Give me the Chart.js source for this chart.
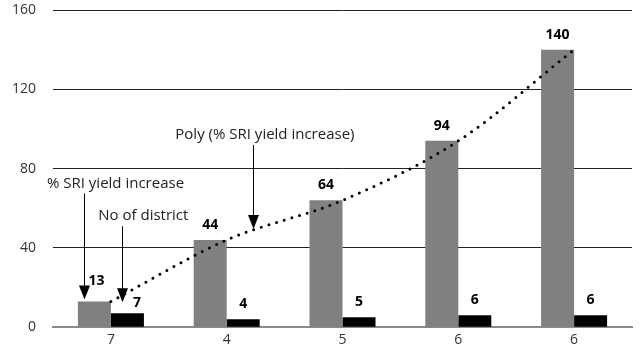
<!DOCTYPE html>
<html>
<head>
<meta charset="utf-8">
<script src="https://cdn.jsdelivr.net/npm/chart.js@4/dist/chart.umd.min.js"></script>
<style>
  html, body { margin: 0; padding: 0; background: #ffffff; }
  #wrap { width: 639px; height: 353px; }
</style>
</head>
<body>
<div id="wrap"><canvas id="c" width="639" height="353"></canvas></div>
<script>
// Category labels along the x axis
const categories = ['7', '4', '5', '6', '6'];
// % SRI yield increase (grey bars)
const sriYieldIncrease = [13, 44, 64, 94, 140];
// Number of districts (black bars)
const districtCount = [7, 4, 5, 6, 6];
// Y axis ticks
const yTicks = [0, 40, 80, 120, 160];

// Callout texts with arrows; positions in category units / value units
const calloutTexts = ['% SRI yield increase', 'No of district', 'Poly (% SRI yield increase)'];
const calloutTextAt = [[0.04, 72.5], [0.28, 56], [1.33, 97]];
const calloutArrowX = [-0.235, 0.10, 1.23];
const calloutArrowTip = [14, 12.6, 49.5];

const FONT = '"Open Sans", "Noto Sans", sans-serif';

// Bold value labels over each bar (first group nudged clear of the arrows)
const valueLabels = {
  id: 'valueLabels',
  afterDatasetsDraw(chart) {
    const ctx = chart.ctx;
    ctx.save();
    ctx.font = 'bold 14px ' + FONT;
    ctx.fillStyle = '#000';
    ctx.textAlign = 'center';
    ctx.textBaseline = 'middle';
    [0, 1].forEach(di => {
      const meta = chart.getDatasetMeta(di);
      const vals = chart.data.datasets[di].data;
      meta.data.forEach((bar, i) => {
        let dx = 0, dy = -15;
        if (i === 0 && di === 0) { dx = 2; dy = -20; }
        if (i === 0 && di === 1) { dx = 9.5; dy = -10; }
        ctx.fillText(String(vals[i]), bar.x + dx, bar.y + dy);
      });
    });
    ctx.restore();
  }
};

// Text callouts with downward arrows
const callouts = {
  id: 'callouts',
  afterDraw(chart) {
    const ctx = chart.ctx;
    const xs = chart.scales.x, ys = chart.scales.y;
    ctx.save();
    ctx.font = '15px ' + FONT;
    ctx.textAlign = 'center';
    ctx.textBaseline = 'middle';
    calloutTexts.forEach((t, i) => {
      const tx = xs.getPixelForValue(calloutTextAt[i][0]);
      const ty = ys.getPixelForValue(calloutTextAt[i][1]);
      ctx.fillStyle = '#222';
      ctx.fillText(t, tx, ty);
      const ax = Math.round(xs.getPixelForValue(calloutArrowX[i])) + 0.5;
      const tip = ys.getPixelForValue(calloutArrowTip[i]);
      const startY = ty + 10;
      ctx.strokeStyle = '#000';
      ctx.lineWidth = 1;
      ctx.beginPath();
      ctx.moveTo(ax, startY);
      ctx.lineTo(ax, tip - 12);
      ctx.stroke();
      ctx.fillStyle = '#000';
      ctx.beginPath();
      ctx.moveTo(ax - 5.5, tip - 14);
      ctx.lineTo(ax + 5.5, tip - 14);
      ctx.lineTo(ax, tip);
      ctx.closePath();
      ctx.fill();
    });
    ctx.restore();
  }
};

new Chart(document.getElementById('c'), {
  type: 'bar',
  data: {
    labels: categories,
    datasets: [
      {
        label: '% SRI yield increase',
        data: sriYieldIncrease,
        backgroundColor: '#808080',
        barPercentage: 1.0,
        categoryPercentage: 0.57,
        order: 2
      },
      {
        label: 'No of district',
        data: districtCount,
        backgroundColor: '#000000',
        barPercentage: 1.0,
        categoryPercentage: 0.57,
        order: 2
      },
      {
        type: 'line',
        label: 'Poly (% SRI yield increase)',
        data: sriYieldIncrease,
        borderColor: '#000',
        borderWidth: 3,
        borderDash: [0, 8],
        borderCapStyle: 'round',
        cubicInterpolationMode: 'monotone',
        pointRadius: 0,
        fill: false,
        order: 0
      }
    ]
  },
  options: {
    responsive: false,
    animation: false,
    events: [],
    layout: { padding: { top: 10, right: 7, bottom: 1, left: 0 } },
    plugins: { legend: { display: false }, tooltip: { enabled: false } },
    scales: {
      x: {
        grid: { display: false, drawTicks: false },
        border: { display: true, color: '#8a8a8a', width: 2 },
        ticks: { color: '#333', font: { family: FONT, size: 14 }, padding: 4 }
      },
      y: {
        min: 0,
        max: 160,
        afterBuildTicks(scale) { scale.ticks = yTicks.map(v => ({ value: v })); },
        afterFit(scale) { scale.width = 53; scale.paddingTop = 0; scale.paddingBottom = 0; },
        border: { display: false },
        grid: {
          drawTicks: false,
          color: c => c.tick && c.tick.value === 0 ? 'rgba(0,0,0,0)' : '#222',
          lineWidth: 1
        },
        ticks: { color: '#333', font: { family: FONT, size: 14 }, padding: 17 }
      }
    }
  },
  plugins: [valueLabels, callouts]
});
</script>
</body>
</html>
